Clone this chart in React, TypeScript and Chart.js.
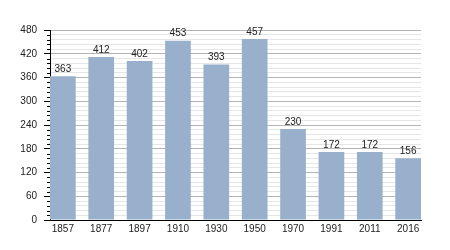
import React, { useEffect, useRef } from "react";
import { Chart, registerables } from "chart.js";

Chart.register(...registerables);

const years = ["1857", "1877", "1897", "1910", "1930", "1950", "1970", "1991", "2011", "2016"];
const population = [363, 412, 402, 453, 393, 457, 230, 172, 172, 156];
const yMax = 480;
const yMinorStep = 12;
const yMajorStep = 60;

const barLabelPlugin = {
  id: "barLabels",
  afterDatasetsDraw(chart: any) {
    const ctx = chart.ctx;
    const meta = chart.getDatasetMeta(0);
    ctx.save();
    ctx.font = "10px 'Liberation Sans', Arial, sans-serif";
    ctx.fillStyle = "#222";
    ctx.textAlign = "center";
    ctx.textBaseline = "bottom";
    meta.data.forEach((el: any, i: number) => {
      ctx.fillText(String(population[i]), el.x, el.y - 2);
    });
    ctx.restore();
  },
};

const minorTickPlugin = {
  id: "minorTicks",
  afterDraw(chart: any) {
    const y = chart.scales.y;
    const ctx = chart.ctx;
    ctx.save();
    ctx.strokeStyle = "#000";
    ctx.lineWidth = 1;
    y.ticks.forEach((t: any) => {
      if (t.value % yMajorStep !== 0) {
        const py = Math.round(y.getPixelForValue(t.value)) + 0.5;
        ctx.beginPath();
        ctx.moveTo(y.right - 3, py);
        ctx.lineTo(y.right, py);
        ctx.stroke();
      }
    });
    ctx.restore();
  },
};

export default function App() {
  const ref = useRef<HTMLCanvasElement>(null);
  useEffect(() => {
    if (!ref.current) return;
    Chart.defaults.font.family = "'Liberation Sans', Arial, sans-serif";
    Chart.defaults.font.size = 10;
    Chart.defaults.color = "#222";
    const chart = new Chart(ref.current, {
      type: "bar",
      data: {
        datasets: [
          {
            data: population.map((v, i) => ({ x: i, y: v })),
            backgroundColor: "#98b0cc",
            borderWidth: 0,
            barPercentage: 0.67,
            categoryPercentage: 1,
          },
        ],
      },
      options: {
        animation: false,
        responsive: false,
        layout: { padding: { top: 30, right: 29, left: 0, bottom: 0 } },
        plugins: { legend: { display: false }, tooltip: { enabled: false } },
        scales: {
          x: {
            type: "linear",
            offset: false,
            min: -0.335,
            max: years.length - 1 + 0.335,
            afterBuildTicks: (scale: any) => {
              scale.ticks = years.map((_, i) => ({ value: i }));
            },
            afterFit: (scale: any) => {
              scale.height = 30;
            },
            ticks: {
              stepSize: 1,
              autoSkip: false,
              maxRotation: 0,
              padding: 3,
              color: "#222",
              callback: (v: any) => years[v] ?? "",
            },
            grid: { display: false, drawTicks: false, offset: false },
            border: { color: "#000", width: 1 },
          },
          y: {
            min: 0,
            max: yMax,
            afterFit: (scale: any) => {
              scale.width = 50;
            },
            ticks: {
              stepSize: yMinorStep,
              padding: 7,
              color: "#222",
              autoSkip: false,
              callback: (v: any) => (v % yMajorStep === 0 ? String(v) : ""),
            },
            grid: {
              color: (c: any) => (c.tick && c.tick.value % yMajorStep === 0 ? "#b4b4b4" : "#e6e6e6"),
              tickColor: (c: any) => (c.tick && c.tick.value % yMajorStep === 0 ? "#000" : "rgba(0,0,0,0)"),
              tickLength: 6,
              drawTicks: true,
            },
            border: { color: "#000", width: 1 },
          },
        },
      },
      plugins: [barLabelPlugin, minorTickPlugin],
    } as any);
    return () => chart.destroy();
  }, []);
  return (
    <div style={{ position: "fixed", left: 0, top: 0, width: 450, height: 250, background: "#fff" }}>
      <canvas ref={ref} width={450} height={250} style={{ width: 450, height: 250 }} />
    </div>
  );
}
